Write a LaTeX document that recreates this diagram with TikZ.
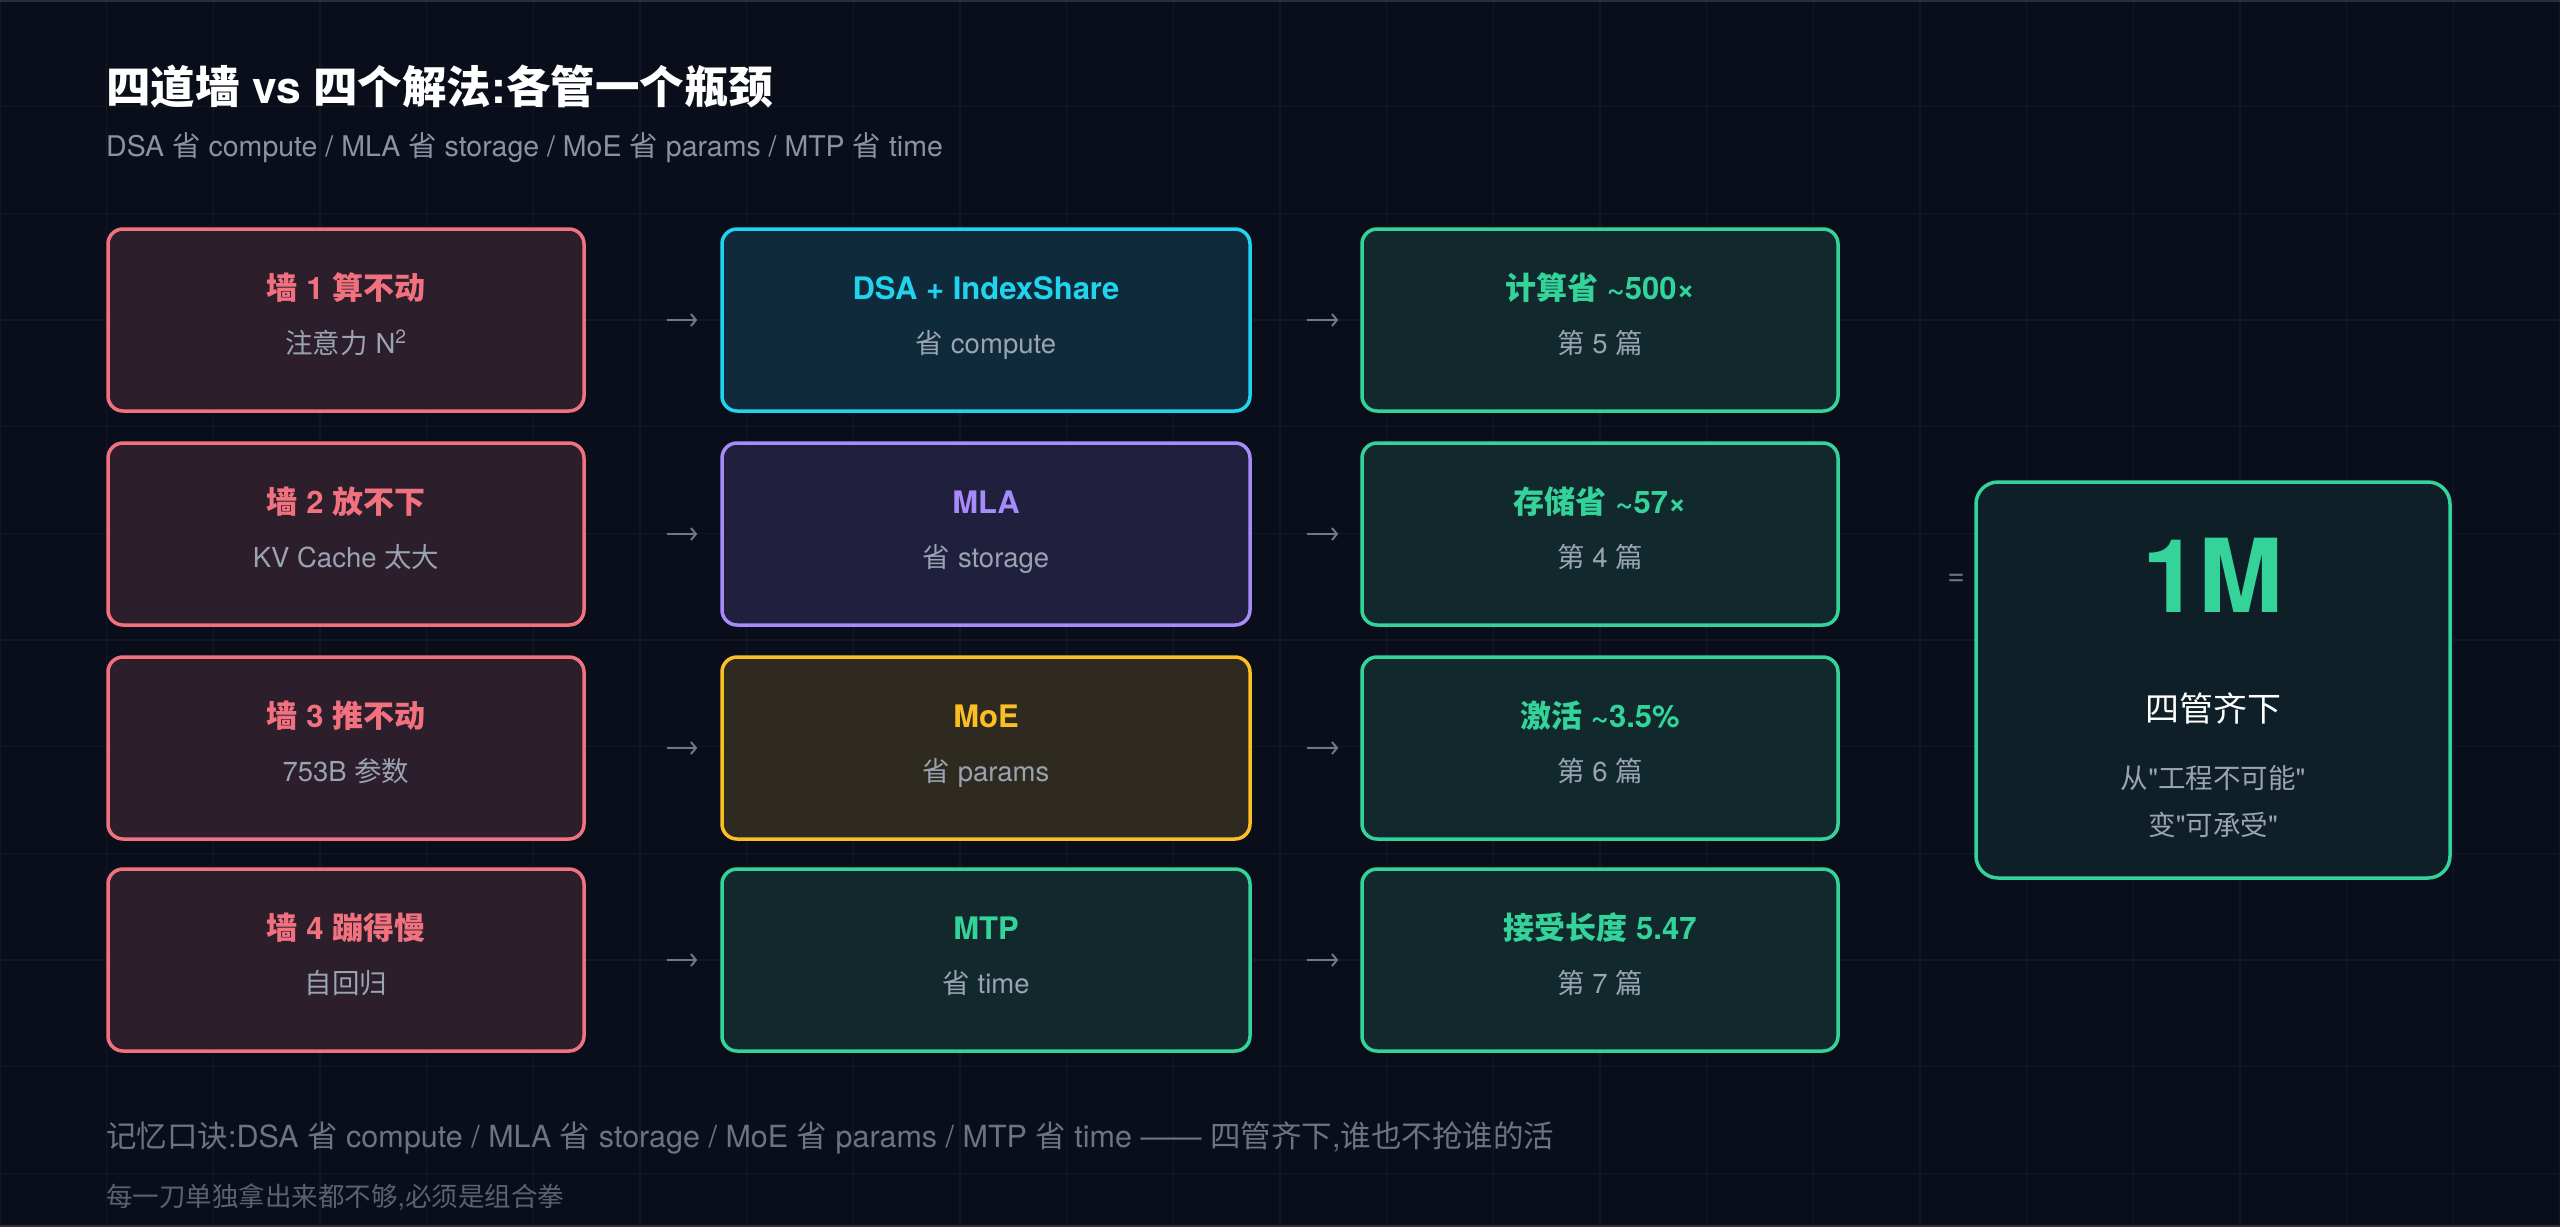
\documentclass[tikz,border=0pt]{standalone}
\usepackage{fontspec}
\setmainfont{TeX Gyre Heros}[Ligatures=TeXOff]
\newfontfamily\cjkfont{Noto Sans CJK SC}
\usetikzlibrary{arrows.meta}

\XeTeXinterchartokenstate=1
\chardef\cjkclass=7
\newcount\cjkcode
\newcommand\setcjkrange[2]{%
  \cjkcode=#1
  \loop\XeTeXcharclass\cjkcode=\cjkclass
  \ifnum\cjkcode<#2 \advance\cjkcode by 1 \repeat}
\setcjkrange{"3000}{"303F}
\setcjkrange{"4E00}{"9FFF}
\setcjkrange{"FF00}{"FFEF}
\XeTeXinterchartoks 0 \cjkclass = {\begingroup\cjkfont}
\XeTeXinterchartoks 4095 \cjkclass = {\begingroup\cjkfont}
\XeTeXinterchartoks \cjkclass 0 = {\endgroup}
\XeTeXinterchartoks \cjkclass 4095 = {\endgroup}

\definecolor{page}{HTML}{0A0E1A}
\definecolor{gridcol}{HTML}{121826}
\definecolor{edgecol}{HTML}{2A2F3A}
\definecolor{wall}{HTML}{F2717F}
\definecolor{bgwall}{HTML}{2D1E2B}
\definecolor{dsa}{HTML}{22D3EE}
\definecolor{bgdsa}{HTML}{0F2A3A}
\definecolor{mla}{HTML}{A78BFA}
\definecolor{bgmla}{HTML}{211F3E}
\definecolor{moe}{HTML}{FBBF24}
\definecolor{bgmoe}{HTML}{2F2A1F}
\definecolor{mtp}{HTML}{34D399}
\definecolor{bgmtp}{HTML}{11292D}
\definecolor{bgsum}{HTML}{0F1F27}
\definecolor{textgray}{HTML}{9AA3B1}
\definecolor{subgray}{HTML}{8A92A4}
\definecolor{footgray}{HTML}{6B7384}
\definecolor{dimgray}{HTML}{5A6171}
\definecolor{arrowgray}{HTML}{707886}

\begin{document}
\begin{tikzpicture}[x=1pt,y=-1pt,
    wallbox/.style={draw=wall,fill=bgwall,line width=3.5pt,rounded corners=15pt,
      minimum width=476pt,minimum height=182pt},
    fixbox/.style={draw=#1,fill=bg#1,line width=3.5pt,rounded corners=15pt,
      minimum width=528pt,minimum height=182pt},
    gainbox/.style={draw=mtp,fill=bgmtp,line width=3.5pt,rounded corners=15pt,
      minimum width=476pt,minimum height=182pt},
    sumbox/.style={draw=mtp,fill=bgsum,line width=3.5pt,rounded corners=22pt,
      minimum width=474pt,minimum height=396pt},
    head/.style={anchor=base,inner sep=0pt,font=\fontsize{31}{36}\selectfont\bfseries},
    note/.style={anchor=base,inner sep=0pt,text=textgray,font=\fontsize{27.5}{32}\selectfont},
    flow/.style={draw=arrowgray,line width=2pt,-{Straight Barb[length=5pt,width=12pt]}}]

  \fill[page] (0,0) rectangle (2560,1227);
  \useasboundingbox (0,0) rectangle (2560,1227);
  \foreach \gx in {0,...,24}
    \draw[gridcol,line width=1.2pt] (\gx*106.667,0) -- (\gx*106.667,1227);
  \foreach \gy in {0,...,11}
    \draw[gridcol,line width=1.2pt] (0,\gy*106.667) -- (2560,\gy*106.667);
  \draw[edgecol,line width=2pt] (0,1) -- (2560,1) (0,1226) -- (2560,1226);

  \node[anchor=base west,inner sep=0pt,text=white,font=\fontsize{44.5}{54}\selectfont\bfseries]
    (title) at (106,103) {四道墙 vs 四个解法:各管一个瓶颈};
  \node[anchor=base west,inner sep=0pt,text=subgray,font=\fontsize{28.5}{32}\selectfont]
    (subtitle) at (106,156) {DSA 省 compute / MLA 省 storage / MoE 省 params / MTP 省 time};

  \foreach \i/\y/\ttl/\sub in {
    1/320/墙 1 算不动/注意力 N\textsuperscript{2},
    2/534/墙 2 放不下/KV Cache 太大,
    3/748/墙 3 推不动/753B 参数,
    4/960/墙 4 蹦得慢/自回归
  } {
    \node[wallbox] (w\i) at (346,\y) {};
    \node[head,text=wall] (w\i-t) at ([yshift=20.5pt]w\i.center) {\ttl};
    \node[note] (w\i-s) at ([yshift=-33pt]w\i.center) {\sub};
  }
  \foreach \i/\y/\c/\ttl/\sub in {
    1/320/dsa/DSA + IndexShare/省 compute,
    2/534/mla/MLA/省 storage,
    3/748/moe/MoE/省 params,
    4/960/mtp/MTP/省 time
  } {
    \node[fixbox=\c] (f\i) at (986,\y) {};
    \node[head,text=\c] (f\i-t) at ([yshift=20.5pt]f\i.center) {\ttl};
    \node[note] (f\i-s) at ([yshift=-33pt]f\i.center) {\sub};
    \draw[flow,shorten <=81pt,shorten >=23pt] (w\i) -- (f\i);
  }
  \foreach \i/\y/\ttl/\sub in {
    1/320/计算省 \textasciitilde500×/第 5 篇,
    2/534/存储省 \textasciitilde57×/第 4 篇,
    3/748/激活 \textasciitilde3.5\%/第 6 篇,
    4/960/接受长度 5.47/第 7 篇
  } {
    \node[gainbox] (g\i) at (1600,\y) {};
    \node[head,text=mtp] (g\i-t) at ([yshift=20.5pt]g\i.center) {\ttl};
    \node[note] (g\i-s) at ([yshift=-33pt]g\i.center) {\sub};
    \draw[flow,shorten <=55pt,shorten >=22pt] (f\i) -- (g\i);
  }

  \node[anchor=base,inner sep=0pt,text=arrowgray,font=\fontsize{30}{36}\selectfont]
    (eq) at (1956,585) {=};
  \node[sumbox] (sum) at (2213,680) {};
  \node[anchor=base,inner sep=0pt,text=mtp,font=\fontsize{102}{110}\selectfont\bfseries]
    (sum-n) at ([yshift=68pt]sum.center) {1M};
  \node[anchor=base,inner sep=0pt,text=white,font=\fontsize{34}{40}\selectfont]
    (sum-t) at ([yshift=-41pt]sum.center) {四管齐下};
  \node[note] (sum-a) at ([yshift=-108pt]sum.center) {从"工程不可能"};
  \node[note] (sum-b) at ([yshift=-155pt]sum.center) {变"可承受"};

  \node[anchor=base west,inner sep=0pt,text=footgray,font=\fontsize{30.5}{34}\selectfont]
    (memo) at (106,1147) {记忆口诀:DSA 省 compute / MLA 省 storage / MoE 省 params / MTP 省 time —— 四管齐下,谁也不抢谁的活};
  \node[anchor=base west,inner sep=0pt,text=dimgray,font=\fontsize{26.5}{30}\selectfont]
    (memo2) at (106,1206) {每一刀单独拿出来都不够,必须是组合拳};
\end{tikzpicture}
\end{document}
